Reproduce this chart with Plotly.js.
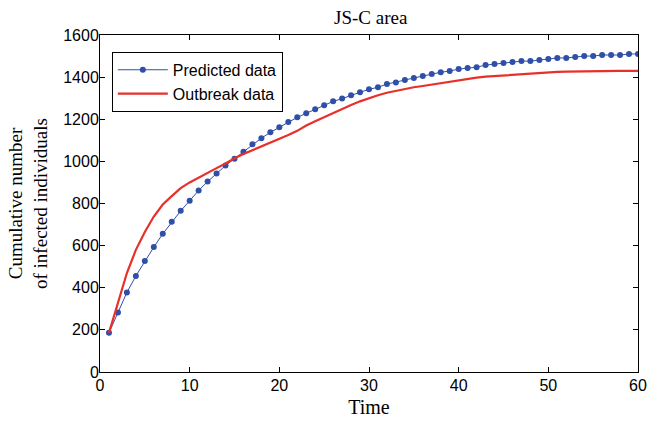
<!DOCTYPE html>
<html>
<head>
<meta charset="utf-8">
<script src="https://cdn.plot.ly/plotly-3.0.1.min.js"></script>
<style>html,body{margin:0;padding:0;background:#fff;}#chart{width:647px;height:427px;}</style>
</head>
<body>
<div id="chart"></div>
<script>
const days = Array.from({length: 60}, (_, i) => i + 1);
const predicted = [186,283,378,456,527,593,656,713,765,813,862,904,942,980,1013,1046,1081,1110,1138,1162,
  1187,1209,1228,1247,1266,1285,1298,1314,1328,1342,1352,1367,1375,1386,1396,1405,1415,1423,1429,1438,
  1443,1447,1457,1462,1467,1472,1476,1476,1481,1486,1491,1491,1495,1500,1500,1505,1505,1505,1510,1510];
const outbreak = [186,333,470,580,665,738,795,835,873,900,924,946,968,990,1015,1035,1053,1070,1088,1105,
  1125,1145,1170,1190,1210,1230,1250,1268,1285,1300,1314,1326,1335,1345,1352,1358,1365,1372,1380,1386,
  1394,1398,1402,1405,1408,1410,1414,1418,1420,1422,1425,1426,1427,1428,1430,1430,1430,1430,1430,1430];
const xTicks = [0,10,20,30,40,50,60];
const yTicks = [0,200,400,600,800,1000,1200,1400,1600];

const traces = [
  {x: days, y: predicted, name: 'Predicted data', mode: 'lines+markers',
   line: {color: '#2F4FA8', width: 1}, marker: {color: '#2F4FA8', size: 6}},
  {x: days, y: outbreak, name: 'Outbreak data', mode: 'lines',
   line: {color: '#E8302A', width: 2.2}}
];
const serif = 'Liberation Serif, Times New Roman, serif';
const sans = 'Liberation Sans, Arial, sans-serif';
const axisCommon = {showline: true, linecolor: '#000', linewidth: 1, mirror: 'ticks',
  ticks: 'inside', ticklen: 5, tickcolor: '#000', showgrid: false, zeroline: false,
  tickfont: {family: sans, size: 16, color: '#000'}};
const layout = {
  width: 647, height: 427,
  margin: {l: 100, r: 9, t: 35, b: 55},
  paper_bgcolor: '#fff', plot_bgcolor: '#fff',
  title: {text: 'JS-C area', font: {family: serif, size: 19, color: '#000'},
          x: 0.573, xanchor: 'center', y: 0.96, yanchor: 'middle'},
  xaxis: Object.assign({}, axisCommon, {range: [0, 60], tickvals: xTicks, ticklabelstandoff: -1,
    title: {text: 'Time', font: {family: serif, size: 20, color: '#000'}, standoff: 6}}),
  yaxis: Object.assign({}, axisCommon, {range: [0, 1600], tickvals: yTicks, ticklabelstandoff: -3,
    title: {text: 'Cumulative number<br>of infected individuals', font: {family: serif, size: 19, color: '#000'}, standoff: 10}}),
  showlegend: true,
  legend: {x: 0.022, y: 0.95, xanchor: 'left', yanchor: 'top', bgcolor: '#fff',
    bordercolor: '#000', borderwidth: 1, itemwidth: 50, entrywidth: 190, entrywidthmode: 'pixels',
    font: {family: sans, size: 16, color: '#000'},
    tracegroupgap: 0}
};
Plotly.newPlot('chart', traces, layout, {displayModeBar: false, staticPlot: true});
</script>
</body>
</html>
